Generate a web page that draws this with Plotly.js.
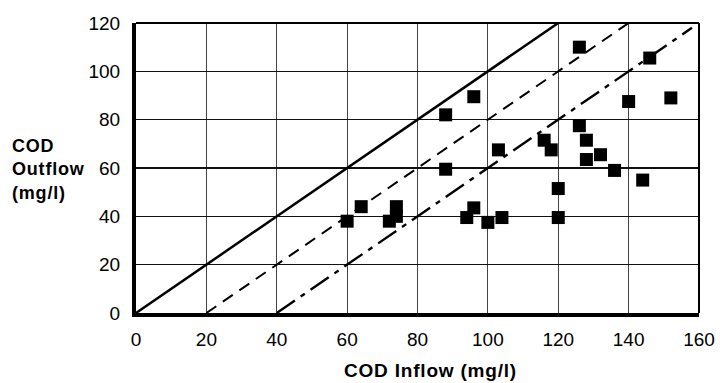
<!DOCTYPE html>
<html>
<head>
<meta charset="utf-8">
<script src="https://cdn.plot.ly/plotly-3.0.1.min.js"></script>
<style>
html,body{margin:0;padding:0;background:#fff;}
#chart{width:720px;height:383px;}
svg text.annotation-text{letter-spacing:0.8px;}
</style>
</head>
<body>
<div id="chart"></div>
<script>
// COD inflow vs outflow (mg/l)
var codInflow  = [60, 64, 72, 74, 74, 88, 96, 88, 94, 96, 100, 104, 103, 116, 118, 120, 120, 126, 126, 128, 128, 132, 136, 140, 146, 144, 152];
var codOutflow = [38, 44, 38, 44, 40, 82, 89.5, 59.5, 39.5, 43.5, 37.5, 39.5, 67.5, 71.5, 67.5, 51.5, 39.5, 110, 77.5, 71.5, 63.5, 65.5, 59, 87.5, 105.5, 55, 89];

// reference lines: outflow = inflow - offset
var lineOffsets = [0, 20, 40];
var lineStarts  = [0, 20, 40];
var lineEnds    = [120, 140, 158];
var lineDashes  = ['solid', '12px,8px', '22px,7px,5px,7px'];
var lineWidths  = [2.5, 2, 2.4];

var xTicks = [0, 20, 40, 60, 80, 100, 120, 140, 160];
var yTicks = [0, 20, 40, 60, 80, 100, 120];

var traces = [];
for (var i = 0; i < lineOffsets.length; i++) {
  traces.push({
    x: [lineStarts[i], lineEnds[i]],
    y: [lineStarts[i] - lineOffsets[i], lineEnds[i] - lineOffsets[i]],
    mode: 'lines',
    type: 'scatter',
    line: {color: '#000', width: lineWidths[i], dash: lineDashes[i]},
    hoverinfo: 'skip',
    showlegend: false
  });
}
traces.push({
  x: codInflow,
  y: codOutflow,
  mode: 'markers',
  type: 'scatter',
  marker: {symbol: 'square', size: 13, color: '#000'},
  showlegend: false
});

var tickFont = {family: 'Liberation Sans, Arial, sans-serif', size: 19, color: '#000'};
var titleFont = {family: 'Liberation Sans, Arial, sans-serif', size: 19, color: '#000'};

var layout = {
  width: 720,
  height: 383,
  margin: {l: 136, r: 21, t: 23, b: 70},
  paper_bgcolor: '#fff',
  plot_bgcolor: '#fff',
  showlegend: false,
  xaxis: {
    range: [0, 160],
    tickvals: xTicks,
    ticktext: xTicks.map(String),
    tickfont: tickFont,
    showgrid: true,
    gridcolor: '#444',
    gridwidth: 1,
    zeroline: false,
    showline: true,
    linecolor: '#000',
    linewidth: 4,
    ticks: 'outside',
    ticklen: 6,
    tickcolor: 'rgba(0,0,0,0)'
  },
  yaxis: {
    range: [0, 120],
    tickvals: yTicks,
    ticktext: yTicks.map(String),
    tickfont: tickFont,
    showgrid: true,
    gridcolor: '#111',
    gridwidth: 1.2,
    zeroline: false,
    showline: true,
    linecolor: '#000',
    linewidth: 4,
    ticks: 'outside',
    ticklen: 8,
    tickcolor: 'rgba(0,0,0,0)'
  },
  shapes: [
    {type: 'line', xref: 'paper', yref: 'paper', x0: 0, x1: 1, y0: 1, y1: 1, line: {color: '#000', width: 2}},
    {type: 'line', xref: 'paper', yref: 'paper', x0: 1, x1: 1, y0: 0, y1: 1, line: {color: '#000', width: 2}}
  ],
  annotations: [
    {
      text: '<b>COD Inflow (mg/l)</b>',
      xref: 'paper', yref: 'paper',
      x: 0.5236, y: -0.199,
      xanchor: 'center', yanchor: 'middle',
      showarrow: false,
      font: titleFont
    },
    {
      text: '<b>COD<br>Outflow<br>(mg/l)</b>',
      xref: 'paper', yref: 'paper',
      x: -0.223, y: 0.495,
      xanchor: 'left', yanchor: 'middle',
      align: 'left',
      showarrow: false,
      font: {family: 'Liberation Sans, Arial, sans-serif', size: 18, color: '#000'}
    }
  ]
};

Plotly.newPlot('chart', traces, layout, {displayModeBar: false, staticPlot: true});
</script>
</body>
</html>
